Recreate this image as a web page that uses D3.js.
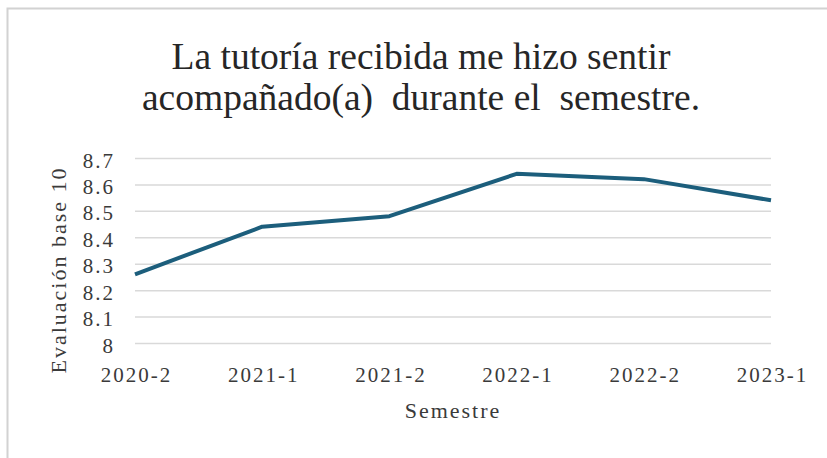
<!DOCTYPE html>
<html>
<head>
<meta charset="utf-8">
<script src="https://cdn.jsdelivr.net/npm/d3@7"></script>
<style>
  body { margin: 0; background: #fff; }
</style>
</head>
<body>
<svg id="chart" width="827" height="458"></svg>
<script>
// chart data
const semesters = ["2020-2", "2021-1", "2021-2", "2022-1", "2022-2", "2023-1"];
const scores = [8.26, 8.44, 8.48, 8.64, 8.62, 8.54];
const yTicks = [8, 8.1, 8.2, 8.3, 8.4, 8.5, 8.6, 8.7];
const titleLines = ["La tutoría recibida me hizo sentir", "acompañado(a)  durante el  semestre."];

const FONT = "'Liberation Serif', 'DejaVu Serif', serif";

const svg = d3.select("#chart");
const margin = {top: 158, right: 56, bottom: 115, left: 135};
const width = +svg.attr("width");
const height = +svg.attr("height");
const innerWidth = width - margin.left - margin.right;
const innerHeight = height - margin.top - margin.bottom;

// outer frame: only the top and left edges are visible in the picture
svg.append("path")
    .attr("d", `M7.5,${height} V8.5 H${width}`)
    .attr("fill", "none")
    .attr("stroke", "#d2d2d2")
    .attr("stroke-width", 2);

const g = svg.append("g")
    .attr("transform", `translate(${margin.left}, ${margin.top})`);

const xScale = d3.scalePoint()
    .domain(semesters)
    .range([0, innerWidth]);

const yScale = d3.scaleLinear()
    .domain([8, 8.7])
    .range([innerHeight, 0]);

// gridlines + y labels
const yAxis = g.append("g")
    .call(d3.axisLeft(yScale)
        .tickValues(yTicks)
        .tickSize(-innerWidth)
        .tickPadding(20)
        .tickFormat(d => d === 8 ? "8" : d3.format(".1f")(d)));
yAxis.select(".domain").remove();
yAxis.selectAll(".tick line")
    .attr("stroke", "#d9d9d9")
    .attr("stroke-width", 1.5);
yAxis.selectAll(".tick text")
    .attr("font-family", FONT)
    .attr("font-size", 21)
    .attr("letter-spacing", 2)
    .attr("dy", "0.43em")
    .attr("fill", "#3a3a3a");

// x labels
const xAxis = g.append("g")
    .attr("transform", `translate(0, ${innerHeight})`)
    .call(d3.axisBottom(xScale).tickSize(0).tickPadding(24));
xAxis.select(".domain").remove();
xAxis.selectAll(".tick text")
    .attr("font-family", FONT)
    .attr("font-size", 21)
    .attr("letter-spacing", 2)
    .attr("dx", 1)
    .attr("fill", "#3a3a3a");

// line
const line = d3.line()
    .x((d, i) => xScale(semesters[i]))
    .y(d => yScale(d));

g.append("path")
    .datum(scores)
    .attr("fill", "none")
    .attr("stroke", "#1c5e7c")
    .attr("stroke-width", 4)
    .attr("stroke-linejoin", "round")
    .attr("d", line);

// title
svg.append("g").selectAll("text")
    .data(titleLines)
    .join("text")
    .attr("x", 421)
    .attr("y", (d, i) => 69 + i * 41)
    .attr("text-anchor", "middle")
    .attr("font-family", FONT)
    .attr("font-size", 37.5)
    .style("white-space", "pre")
    .attr("fill", "#262626")
    .text(d => d);

// axis titles
svg.append("text")
    .attr("x", 453)
    .attr("y", 418)
    .attr("text-anchor", "middle")
    .attr("font-family", FONT)
    .attr("font-size", 22)
    .attr("letter-spacing", 2)
    .attr("fill", "#3a3a3a")
    .text("Semestre");

svg.append("text")
    .attr("transform", "translate(66, 270) rotate(-90)")
    .attr("text-anchor", "middle")
    .attr("font-family", FONT)
    .attr("font-size", 22)
    .attr("letter-spacing", 2)
    .attr("fill", "#3a3a3a")
    .text("Evaluación base 10");
</script>
</body>
</html>
